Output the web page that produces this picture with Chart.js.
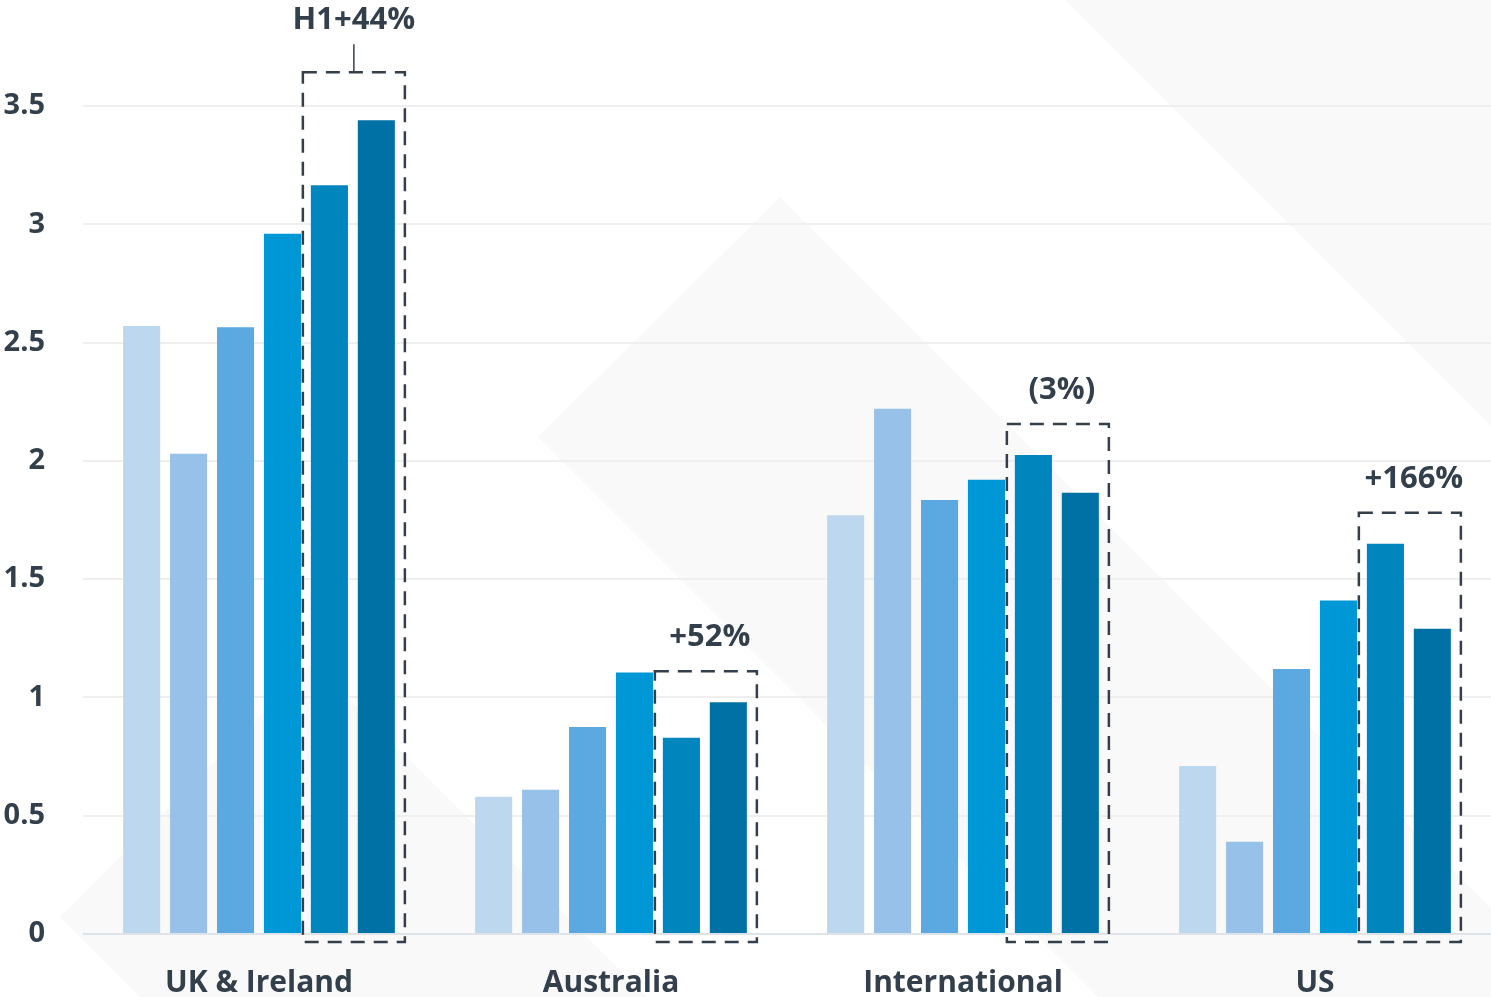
<!DOCTYPE html>
<html lang="en">
  <head>
    <meta charset="UTF-8" />
    <title>Regional bars</title>
    <script src="https://cdn.jsdelivr.net/npm/chart.js"></script>
    <style>
      body {
        margin: 0;
        background: #ffffff;
      }
      #wrap {
        width: 1491px;
        height: 997px;
        position: relative;
      }
    </style>
  </head>
  <body>
    <div id="wrap"><canvas id="regionChart"></canvas></div>

    <script>
      const regions = ["UK & Ireland", "Australia", "International", "US"];
      const periods = ["P1", "P2", "P3", "P4", "P5", "P6"];

      const p1 = [2.57, 0.58, 1.77, 0.71];
      const p2 = [2.03, 0.61, 2.22, 0.39];
      const p3 = [2.565, 0.875, 1.835, 1.12];
      const p4 = [2.96, 1.105, 1.92, 1.41];
      const p5 = [3.165, 0.83, 2.025, 1.65];
      const p6 = [3.44, 0.98, 1.865, 1.29];

      const growthLabels = ["H1+44%", "+52%", "(3%)", "+166%"];
      const yTicks = [0, 0.5, 1, 1.5, 2, 2.5, 3, 3.5];

      const colours = ["#BDD7EE", "#97C1E8", "#5BA9E0", "#0097D6", "#0085BD", "#0071A4"];
      const ink = "#333F4B";
      const font = "'Open Sans', Lato, sans-serif";
      const weight = "bold";

      // faint diamond watermark behind the plot
      const watermark = {
        id: "watermark",
        beforeDraw(chart) {
          const ctx = chart.ctx;
          const W = chart.width, H = chart.height;
          ctx.save();
          ctx.fillStyle = "#f9f9f9";
          const shapes = [
            [[1065, 0], [W, 0], [W, 426]],
            [[538, 437], [780, 197], [W, 908], [W, H], [1098, H]],
            [[60, 917], [313, 663], [647, H], [140, H]],
          ];
          shapes.forEach((pts) => {
            ctx.beginPath();
            pts.forEach(([x, y], i) => (i ? ctx.lineTo(x, y) : ctx.moveTo(x, y)));
            ctx.closePath();
            ctx.fill();
          });
          ctx.restore();
        },
      };

      // dashed boxes around the last two bars of each region + growth label
      const callouts = {
        id: "callouts",
        afterDatasetsDraw(chart) {
          const ctx = chart.ctx;
          const a = chart.getDatasetMeta(4).data;
          const b = chart.getDatasetMeta(5).data;
          const zeroY = chart.scales.y.getPixelForValue(0);
          ctx.save();
          ctx.strokeStyle = ink;
          ctx.fillStyle = ink;
          ctx.font = weight + " 31px " + font;
          ctx.textAlign = "center";
          ctx.textBaseline = "alphabetic";
          regions.forEach((r, i) => {
            const left = a[i].x - a[i].width / 2 - 8;
            const right = b[i].x + b[i].width / 2 + 10;
            const gap = i === 0 ? 48 : 31;
            const top = Math.min(a[i].y, b[i].y) - gap;
            const bottom = zeroY + 8;
            const cx = (left + right) / 2;
            ctx.lineWidth = 2.5;
            ctx.setLineDash([14, 9]);
            ctx.strokeRect(left, top, right - left, bottom - top);
            ctx.setLineDash([]);
            if (i === 0) {
              ctx.lineWidth = 1.5;
              ctx.beginPath();
              ctx.moveTo(cx, top - 28);
              ctx.lineTo(cx, top);
              ctx.stroke();
              ctx.fillText(growthLabels[i], cx, top - 43);
            } else {
              ctx.fillText(growthLabels[i], cx + 4, top - 25);
            }
          });
          ctx.restore();
        },
      };

      const series = [p1, p2, p3, p4, p5, p6];

      new Chart(document.getElementById("regionChart"), {
        type: "bar",
        data: {
          labels: regions,
          datasets: series.map((vals, i) => ({
            label: periods[i],
            data: vals,
            backgroundColor: colours[i],
            categoryPercentage: 0.8,
            barPercentage: 0.79,
          })),
        },
        options: {
          responsive: true,
          maintainAspectRatio: false,
          animation: false,
          layout: { padding: { top: 106, left: 0, right: 0, bottom: 0 } },
          plugins: {
            legend: { display: false },
            tooltip: { enabled: false },
          },
          scales: {
            x: {
              grid: { display: false },
              border: { display: false },
              ticks: {
                color: ink,
                font: { family: font, size: 30, weight: weight },
                padding: 23,
                maxRotation: 0,
              },
              afterFit: (s) => {
                s.height = 63;
              },
            },
            y: {
              min: 0,
              max: 3.5,
              border: { display: false },
              grid: {
                drawTicks: false,
                lineWidth: 2,
                color: (c) => (c.tick && c.tick.value === 0 ? "#dde3e9" : "#efefef"),
              },
              afterBuildTicks: (s) => {
                s.ticks = yTicks.map((v) => ({ value: v }));
              },
              ticks: {
                color: ink,
                font: { family: font, size: 29, weight: weight },
                padding: 38,
                callback: (v) => String(v),
              },
              afterFit: (s) => {
                s.width = 83;
              },
            },
          },
        },
        plugins: [watermark, callouts],
      });
    </script>
  </body>
</html>
